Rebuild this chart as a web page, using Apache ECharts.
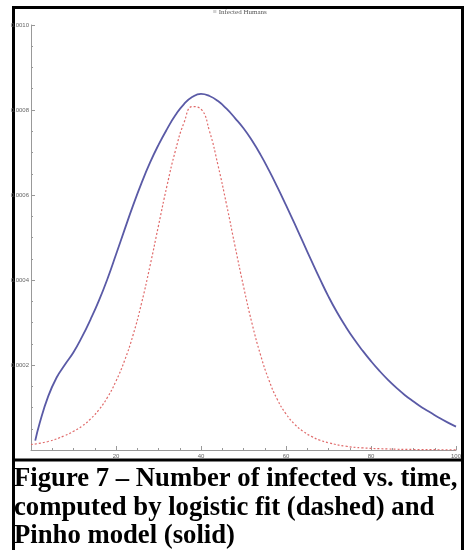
<!DOCTYPE html>
<html>
<head>
<meta charset="utf-8">
<script src="https://cdn.jsdelivr.net/npm/echarts@6/dist/echarts.min.js"></script>
<style>
  html, body { margin: 0; padding: 0; background: #fff; }
  #chart { width: 465px; height: 550px; }
</style>
</head>
<body>
<div id="chart"></div>
<script>
// values (infected, in units of 1e-4)
const pinhoT = [1, 2, 4, 6, 8, 10, 12, 14, 16, 18, 20, 22, 24, 26, 28, 30, 32, 34, 36,
  38, 40, 42, 44, 46, 48, 50, 52, 54, 56, 58, 60, 62, 64, 66, 68, 70, 72, 74, 76, 78, 80, 82, 84,
  86, 88, 90, 92, 94, 96, 98, 100];
const pinhoY = [0.22, 0.62, 1.25, 1.7, 2.01, 2.3, 2.66, 3.07, 3.52, 4.03,
  4.6, 5.18, 5.75, 6.28, 6.76, 7.18, 7.55, 7.88, 8.14, 8.31, 8.38, 8.33, 8.21, 8.03, 7.81, 7.57,
  7.28, 6.95, 6.58, 6.18, 5.76, 5.33, 4.89, 4.45, 4.02, 3.61, 3.24, 2.91, 2.61, 2.34, 2.09, 1.86,
  1.65, 1.46, 1.29, 1.14, 1.0, 0.88, 0.76, 0.65, 0.55];

const logisticT = [0, 4, 8, 10, 12, 14, 16, 18, 20, 22, 24, 26, 28, 30, 32, 34, 36, 38, 40, 42, 44, 46,
  48, 50, 52, 54, 56, 58, 60, 62, 64, 66, 68, 70, 74, 78, 84, 90, 100];
const logisticY = [0.13, 0.2, 0.34, 0.44, 0.56, 0.73, 0.95, 1.24, 1.62, 2.1, 2.7, 3.45, 4.33, 5.28,
  6.22, 7.05, 7.7, 8.08, 8.02, 7.5, 6.7, 5.78, 4.8, 3.85, 2.98, 2.24, 1.64, 1.18, 0.85, 0.61, 0.44,
  0.32, 0.23, 0.17, 0.09, 0.05, 0.025, 0.012, 0.004];

const xTicks = [20, 40, 60, 80, 100];
const caption = [
  "Figure 7 – Number of infected vs. time,",
  "computed by logistic fit (dashed) and",
  "Pinho model (solid)"
];

function pairs(t, y) {
  return t.map((v, i) => [v, y[i] * 1e-4]);
}

const chart = echarts.init(document.getElementById("chart"));

const tickFont = { fontSize: 6, color: "#666", fontFamily: "Liberation Sans" };

chart.setOption({
  animation: false,
  backgroundColor: "#fff",
  grid: { left: 31, right: 9, top: 25, bottom: 100, containLabel: false },
  xAxis: {
    type: "value",
    min: 0,
    max: 100,
    interval: 20,
    axisLine: { lineStyle: { color: "#999", width: 1 } },
    axisTick: { inside: true, length: 4, lineStyle: { color: "#999" } },
    minorTick: { show: true, splitNumber: 4, length: 2, lineStyle: { color: "#999" } },
    splitLine: { show: false },
    axisLabel: Object.assign({
      showMinLabel: false,
      margin: 3,
      formatter: (v) => (xTicks.includes(v) ? String(v) : "")
    }, tickFont)
  },
  yAxis: {
    type: "value",
    min: 0,
    max: 0.001,
    interval: 0.0002,
    axisLine: { show: true, lineStyle: { color: "#999", width: 1 } },
    axisTick: { show: true, inside: true, length: 4, lineStyle: { color: "#999" } },
    minorTick: { show: true, splitNumber: 4, length: 2, lineStyle: { color: "#999" } },
    splitLine: { show: false },
    axisLabel: Object.assign({
      showMinLabel: false,
      margin: 2,
      formatter: (v) => v.toFixed(4)
    }, tickFont)
  },
  series: [
    {
      name: "Pinho model",
      type: "line",
      data: pairs(pinhoT, pinhoY),
      smooth: 0.5,
      showSymbol: false,
      lineStyle: { color: "#5a5aa6", width: 1.8 }
    },
    {
      name: "logistic fit",
      type: "line",
      data: pairs(logisticT, logisticY),
      smooth: 0.5,
      showSymbol: false,
      lineStyle: { color: "#e06a6a", width: 1.2, type: [2, 2] }
    }
  ],
  graphic: [
    {
      type: "text",
      left: 243 - 30,
      top: 9,
      style: { text: "≡ Infected Humans", fontSize: 7, fill: "#555", fontFamily: "Liberation Serif" }
    },
    {
      type: "rect",
      shape: { x: 13.5, y: 7.5, width: 449, height: 560 },
      style: { fill: null, stroke: "#000", lineWidth: 3 },
      silent: true
    },
    {
      type: "line",
      shape: { x1: 13, y1: 460, x2: 463, y2: 460 },
      style: { stroke: "#000", lineWidth: 3 },
      silent: true
    },
    ...caption.map((line, i) => ({
      type: "text",
      left: 14,
      top: 466 + i * 28.5,
      style: {
        text: line,
        fontSize: 26.7,
        fontWeight: "bold",
        fill: "#000",
        fontFamily: "Liberation Serif"
      }
    }))
  ]
});
</script>
</body>
</html>
